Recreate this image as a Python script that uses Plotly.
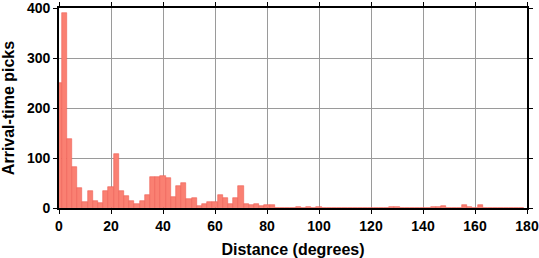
import plotly.graph_objects as go

# Histogram bin centres (degrees), bin width 2
bin_centers = list(range(0, 180, 2))
counts = [
    251, 390, 139, 82, 40, 12, 35, 15, 10, 35,   # 0-18
    43, 109, 35, 25, 14, 8, 15, 27, 63, 63,      # 20-38
    64, 61, 23, 45, 51, 18, 21, 4, 8, 12,        # 40-58
    12, 27, 20, 8, 21, 45, 8, 6, 8, 4,           # 60-78
    7, 7, 0, 0, 0, 0, 3, 1, 3, 0,                # 80-98
    3, 0, 0, 0, 0, 0, 1, 0, 1, 0,                # 100-118
    0, 0, 1, 1, 2, 2, 0, 0, 0, 0,                # 120-138
    0, 1, 2, 3, 5, 1, 0, 0, 6, 3,                # 140-158
    0, 6, 0, 1, 0, 0, 0, 0, 0, 0,                # 160-178
]
x_ticks = [0, 20, 40, 60, 80, 100, 120, 140, 160, 180]
y_ticks = [0, 100, 200, 300, 400]

FAM = "Liberation Sans, Arial, sans-serif"

fig = go.Figure(go.Bar(
    x=bin_centers, y=counts, width=2,
    marker=dict(color="rgb(250,128,114)", line=dict(color="rgb(238,96,86)", width=0.6)),
))

axis_common = dict(
    showline=True, linecolor="black", linewidth=1.6, mirror="allticks",
    ticks="outside", ticklen=4, tickcolor="black", tickwidth=1,
    showgrid=True, gridcolor="#9a9a9a", gridwidth=1, zeroline=False,
    automargin=False, ticklabeloverflow="allow",
    tickfont=dict(family=FAM, size=14, color="black", weight="bold"),
)
fig.update_layout(
    width=539, height=258,
    margin=dict(l=59, r=12, t=8, b=50),
    paper_bgcolor="white", plot_bgcolor="white",
    showlegend=False, font=dict(family=FAM, size=14, color="black"), bargap=0,
    xaxis=dict(range=[0, 180], tickvals=x_ticks, **axis_common,
               title=dict(text="Distance (degrees)", standoff=11,
                          font=dict(family=FAM, size=16, weight="bold"))),
    yaxis=dict(range=[0, 400], tickvals=y_ticks, **axis_common,
               title=dict(text="Arrival-time picks", standoff=9,
                          font=dict(family=FAM, size=16, weight="bold"))),
)
fig.write_html("out.html")
